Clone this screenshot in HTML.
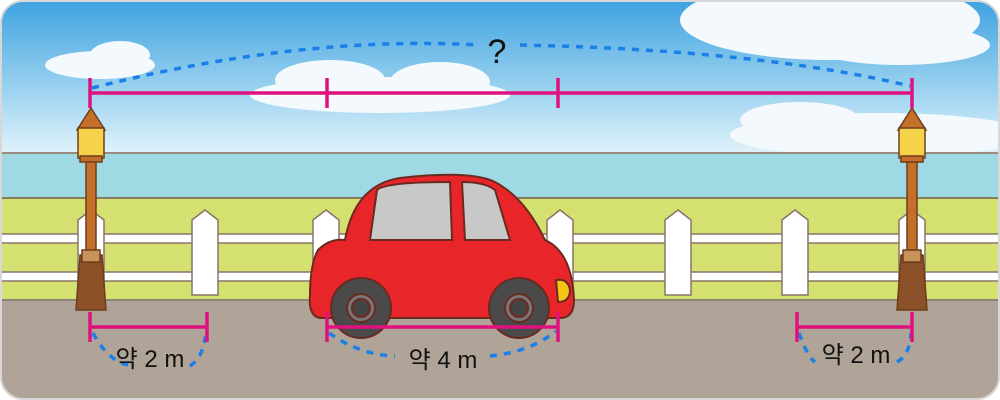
<!DOCTYPE html>
<html><head><meta charset="utf-8"><style>
html,body{margin:0;padding:0;background:#fff;}
svg{display:block;}
text{font-family:"Liberation Sans","Noto Sans CJK KR",sans-serif;}
</style></head><body>
<svg width="1000" height="400" viewBox="0 0 1000 400">
<defs>
<linearGradient id="sky" x1="0" y1="0" x2="0" y2="1">
<stop offset="0" stop-color="#3ea2e0"/><stop offset="0.6" stop-color="#9fd4f0"/><stop offset="1" stop-color="#e2f3fb"/>
</linearGradient>
<clipPath id="clip"><rect x="1" y="1" width="998" height="398" rx="22"/></clipPath>
</defs>
<g clip-path="url(#clip)">
<rect x="0" y="0" width="1000" height="155" fill="url(#sky)"/>
<g fill="#f3f9fd">
<ellipse cx="100" cy="65" rx="55" ry="14"/><ellipse cx="120" cy="55" rx="30" ry="14"/>
<ellipse cx="380" cy="95" rx="130" ry="18"/><ellipse cx="330" cy="80" rx="55" ry="20"/><ellipse cx="440" cy="82" rx="50" ry="20"/>
<ellipse cx="830" cy="20" rx="150" ry="40"/><ellipse cx="900" cy="45" rx="90" ry="20"/>
<ellipse cx="880" cy="135" rx="150" ry="22"/><ellipse cx="800" cy="120" rx="60" ry="18"/>
</g>
<rect x="0" y="152" width="1000" height="46" fill="#9fd9e3"/>
<line x1="0" y1="153" x2="1000" y2="153" stroke="#9a8a80" stroke-width="2"/>
<rect x="0" y="197" width="1000" height="104" fill="#d4e070"/>
<line x1="0" y1="198" x2="1000" y2="198" stroke="#8a7a60" stroke-width="2"/>
<rect x="0" y="300" width="1000" height="100" fill="#b0a397"/>
<line x1="0" y1="300" x2="1000" y2="300" stroke="#8f8278" stroke-width="2"/>
<g fill="#fff" stroke="#8a7468" stroke-width="1.5">
<rect x="0" y="234" width="1000" height="9"/><rect x="0" y="272" width="1000" height="9"/>
<path d="M78 220 l13 -10 l13 10 v75 h-26z"/>
<path d="M192 220 l13 -10 l13 10 v75 h-26z"/>
<path d="M313 220 l13 -10 l13 10 v75 h-26z"/>
<path d="M547 220 l13 -10 l13 10 v75 h-26z"/>
<path d="M665 220 l13 -10 l13 10 v75 h-26z"/>
<path d="M782 220 l13 -10 l13 10 v75 h-26z"/>
<path d="M899 220 l13 -10 l13 10 v75 h-26z"/>
</g>
<g stroke="#6e3d1a" stroke-width="1.5">
<rect x="86" y="160" width="10" height="95" fill="#c46f2a"/>
<path d="M80 255 h22 l4 55 h-30z" fill="#8c5128"/>
<rect x="82" y="250" width="18" height="12" fill="#c9945a"/>
<path d="M91 108 l-14 22 h28z" fill="#c46f2a"/>
<rect x="78" y="128" width="26" height="30" fill="#f5d24a"/>
<rect x="80" y="156" width="22" height="6" fill="#c46f2a"/>
</g>
<g stroke="#6e3d1a" stroke-width="1.5">
<rect x="907" y="160" width="10" height="95" fill="#c46f2a"/>
<path d="M901 255 h22 l4 55 h-30z" fill="#8c5128"/>
<rect x="903" y="250" width="18" height="12" fill="#c9945a"/>
<path d="M912 108 l-14 22 h28z" fill="#c46f2a"/>
<rect x="899" y="128" width="26" height="30" fill="#f5d24a"/>
<rect x="901" y="156" width="22" height="6" fill="#c46f2a"/>
</g>
<g stroke="#6a2a20" stroke-width="2">
<path d="M318 250 Q330 238 345 240 Q355 185 400 178 Q470 170 495 182 Q525 198 545 240 Q572 252 574 300 Q574 318 560 318 H322 Q308 318 310 295 Q310 265 318 250z" fill="#e8262a"/>
<path d="M377 190 Q385 182 450 182 L452 240 H370z" fill="#c8c8c8"/>
<path d="M462 182 Q485 182 495 190 L510 240 H465z" fill="#c8c8c8"/>
<path d="M556 280 q12 -2 14 10 q0 12 -12 12z" fill="#f6c514"/>
<circle cx="361" cy="308" r="30" fill="#4a4a4a"/><circle cx="361" cy="308" r="14" fill="#777"/><circle cx="361" cy="308" r="9" fill="#444"/>
<circle cx="519" cy="308" r="30" fill="#4a4a4a"/><circle cx="519" cy="308" r="14" fill="#777"/><circle cx="519" cy="308" r="9" fill="#444"/>
</g>
<g fill="none" stroke="#1a7fe6" stroke-width="3.5" stroke-dasharray="7 7">
<path d="M92 88 Q300 35 480 45"/>
<path d="M520 45 Q760 50 910 86"/>
<path d="M93 333 Q110 365 135 366" /><path d="M190 366 Q203 358 206 333"/>
<path d="M329 333 Q360 355 395 356"/><path d="M490 356 Q530 352 556 331"/>
<path d="M799 333 Q808 358 815 362"/><path d="M897 362 Q910 355 911 333"/>
</g>
<g stroke="#e0117f" stroke-width="3.5" fill="none">
<path d="M90 93 H912 M90 78 V108 M327 78 V108 M558 78 V108 M912 78 V108"/>
<path d="M90 327 H207 M90 312 V342 M207 312 V342"/>
<path d="M327 327 H558 M327 312 V342 M558 312 V342"/>
<path d="M797 327 H912 M797 312 V342 M912 312 V342"/>
</g>
<text x="497" y="63" font-size="34" text-anchor="middle" fill="#111">?</text>
<text x="150" y="367" font-size="24" text-anchor="middle" fill="#111">약 2 m</text>
<text x="443" y="368" font-size="24" text-anchor="middle" fill="#111">약 4 m</text>
<text x="856" y="363" font-size="24" text-anchor="middle" fill="#111">약 2 m</text>
</g>
<rect x="1" y="1" width="998" height="398" rx="22" fill="none" stroke="#d8d8d8" stroke-width="2"/>
</svg>
</body></html>
